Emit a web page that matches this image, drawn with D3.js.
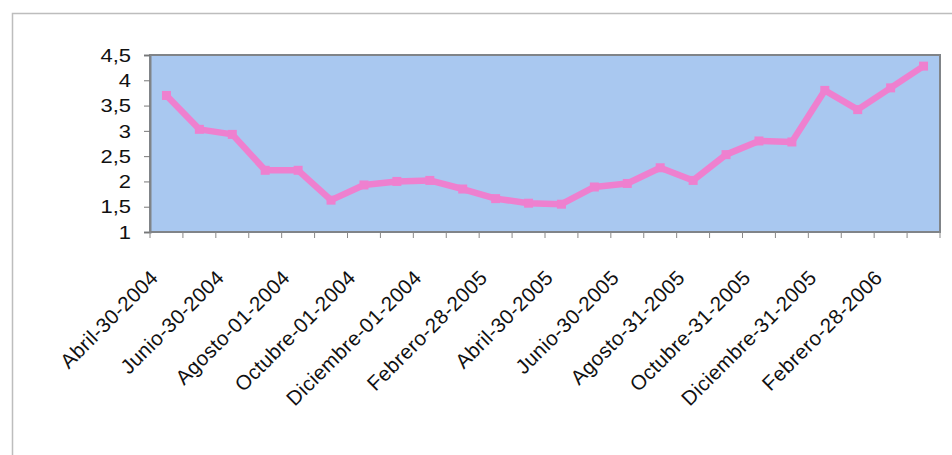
<!DOCTYPE html>
<html>
<head>
<meta charset="utf-8">
<script src="https://cdn.jsdelivr.net/npm/d3@7"></script>
<style>
  html, body { margin: 0; padding: 0; background: #fff; }
  svg { display: block; }
  text { font-family: "Liberation Sans", Arial, sans-serif; fill: #111; }
</style>
</head>
<body>
<svg id="chart" width="952" height="455"></svg>
<script>
// Monthly closing dates, April 2004 to March 2006
const categories = [
  "Abril-30-2004", "Mayo-31-2004", "Junio-30-2004", "Julio-31-2004",
  "Agosto-01-2004", "Septiembre-01-2004", "Octubre-01-2004", "Noviembre-01-2004",
  "Diciembre-01-2004", "Enero-31-2005", "Febrero-28-2005", "Marzo-31-2005",
  "Abril-30-2005", "Mayo-31-2005", "Junio-30-2005", "Julio-31-2005",
  "Agosto-31-2005", "Septiembre-30-2005", "Octubre-31-2005", "Noviembre-30-2005",
  "Diciembre-31-2005", "Enero-31-2006", "Febrero-28-2006", "Marzo-31-2006"
];
const values = [
  3.70, 3.03, 2.93, 2.22, 2.22, 1.63, 1.93, 2.00,
  2.02, 1.85, 1.66, 1.57, 1.55, 1.89, 1.96, 2.27,
  2.02, 2.53, 2.80, 2.78, 3.80, 3.42, 3.85, 4.28
];
const yTicks = [1, 1.5, 2, 2.5, 3, 3.5, 4, 4.5];
// every second date gets a label
const labelledCategories = categories.filter((d, i) => i % 2 === 0);

const svg = d3.select("#chart");
const plot = { left: 150, right: 940, top: 55, bottom: 232 };

// outer chart frame
svg.append("path")
  .attr("d", "M12.5,455 L12.5,13.5 L952,13.5")
  .attr("fill", "none")
  .attr("stroke", "#bdbdbd")
  .attr("stroke-width", 1.5);

const x = d3.scaleBand().domain(categories).range([plot.left, plot.right]).padding(0);
const y = d3.scaleLinear().domain([1, 4.5]).range([plot.bottom, plot.top]);

// plot area
svg.append("rect")
  .attr("x", plot.left).attr("y", plot.top)
  .attr("width", plot.right - plot.left).attr("height", plot.bottom - plot.top)
  .attr("fill", "#a9c8f0")
  .attr("stroke", "#808488")
  .attr("stroke-width", 2);

// y axis
const yAxis = svg.append("g")
  .attr("transform", `translate(${plot.left},0)`)
  .call(d3.axisLeft(y).tickValues(yTicks).tickSize(6).tickPadding(0)
    .tickFormat(d => d3.format(".1~f")(d).replace(".", ",")));
yAxis.select(".domain").attr("stroke", "#808488").attr("stroke-width", 2);
yAxis.selectAll(".tick line").attr("stroke", "#777");
yAxis.selectAll(".tick text")
  .attr("x", null).attr("dy", null)
  .attr("text-anchor", "end")
  .attr("dominant-baseline", "central")
  .style("font-size", "18px")
  .style("font-family", "'Liberation Sans', Arial, sans-serif")
  .attr("fill", "#111")
  .attr("transform", "translate(-19,0) scale(1.22,1)");

// x axis: ticks sit on the category boundaries
const boundaries = categories.map(c => x(c)).concat([plot.right]);
svg.append("g").selectAll("line")
  .data(boundaries)
  .join("line")
  .attr("x1", d => d).attr("x2", d => d)
  .attr("y1", plot.bottom).attr("y2", plot.bottom + 6)
  .attr("stroke", "#888")
  .attr("stroke-width", 1);

svg.append("g").selectAll("text")
  .data(labelledCategories)
  .join("text")
  .attr("text-anchor", "end")
  .attr("x", 0).attr("y", 0)
  .attr("transform", d => {
    const cx = x(d) + x.bandwidth() / 2;
    return `translate(${cx - 7},${279}) rotate(-45)`;
  })
  .style("font-size", "20.5px")
  .style("letter-spacing", "0.4px")
  .text(d => d);

// series line
const line = d3.line()
  .x((d, i) => x(categories[i]) + x.bandwidth() / 2)
  .y(d => y(d));

svg.append("path")
  .datum(values)
  .attr("d", line)
  .attr("fill", "none")
  .attr("stroke", "#ee80cf")
  .attr("stroke-width", 6.5)
  .attr("stroke-linejoin", "round");

svg.append("g").selectAll("rect")
  .data(values)
  .join("rect")
  .attr("x", (d, i) => x(categories[i]) + x.bandwidth() / 2 - 4.5)
  .attr("y", d => y(d) - 4.5)
  .attr("width", 9).attr("height", 9)
  .attr("fill", "#ee80cf");
</script>
</body>
</html>
